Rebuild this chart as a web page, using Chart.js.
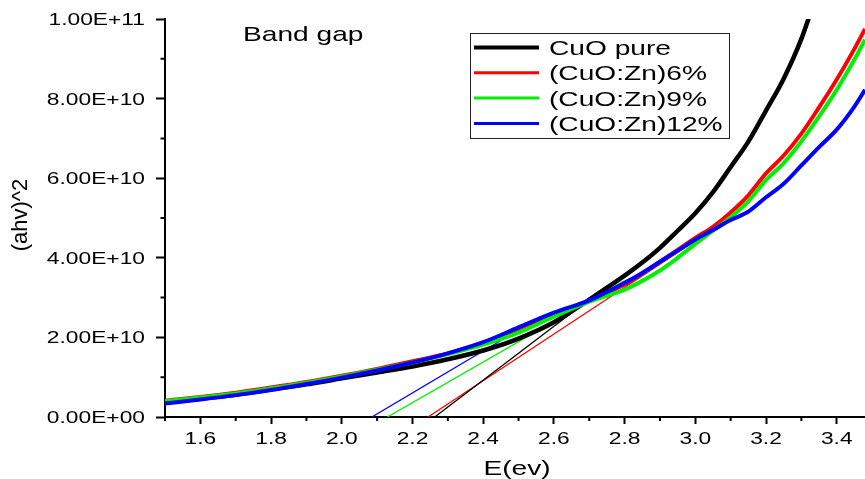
<!DOCTYPE html>
<html>
<head>
<meta charset="utf-8">
<script src="https://cdn.jsdelivr.net/npm/chart.js@4.4.1/dist/chart.umd.min.js"></script>
<style>
    body { margin: 0; background: #fff; }
</style>
</head>
<body>
<canvas id="bandcanvas" width="865" height="479"></canvas>
<script>
// photon energy (eV) and (ahv)^2 for each sample
let energy = [1.50, 1.60, 1.70, 1.80, 1.90, 2.00, 2.10, 2.20, 2.30, 2.40, 2.50, 2.60, 2.70,
              2.80, 2.85, 2.90, 2.95, 3.00, 3.05, 3.10, 3.15, 3.20, 3.25, 3.30, 3.35, 3.40, 3.45, 3.48];
let cuoPure = [0.37e10, 0.46e10, 0.56e10, 0.69e10, 0.82e10, 0.97e10, 1.12e10, 1.27e10, 1.45e10, 1.67e10, 1.97e10, 2.38e10, 2.95e10,
               3.55e10, 3.88e10, 4.25e10, 4.68e10, 5.12e10, 5.65e10, 6.28e10, 6.92e10, 7.70e10, 8.50e10, 9.50e10, 10.8e10, null, null, null];
let zn6 = [0.41e10, 0.50e10, 0.61e10, 0.74e10, 0.88e10, 1.04e10, 1.21e10, 1.40e10, 1.60e10, 1.85e10, 2.22e10, 2.57e10, 2.92e10,
           3.33e10, 3.60e10, 3.90e10, 4.20e10, 4.50e10, 4.78e10, 5.14e10, 5.57e10, 6.12e10, 6.57e10, 7.12e10, 7.78e10, 8.48e10, 9.25e10, 9.75e10];
let zn9 = [0.40e10, 0.49e10, 0.59e10, 0.72e10, 0.86e10, 1.02e10, 1.19e10, 1.37e10, 1.58e10, 1.82e10, 2.12e10, 2.52e10, 2.90e10,
           3.20e10, 3.42e10, 3.68e10, 4.00e10, 4.35e10, 4.68e10, 5.02e10, 5.42e10, 5.95e10, 6.38e10, 6.92e10, 7.55e10, 8.22e10, 8.98e10, 9.48e10];
let zn12 = [0.34e10, 0.44e10, 0.55e10, 0.68e10, 0.83e10, 0.99e10, 1.17e10, 1.37e10, 1.60e10, 1.88e10, 2.25e10, 2.62e10, 2.93e10,
            3.37e10, 3.62e10, 3.90e10, 4.18e10, 4.46e10, 4.70e10, 4.95e10, 5.16e10, 5.52e10, 5.86e10, 6.32e10, 6.78e10, 7.22e10, 7.80e10, 8.22e10];

// linear fits (start and end points) used to read the gap
let fitPureX = [2.263, 2.75];   let fitPureY = [0, 3.29e10];
let fit6X = [2.244, 3.02];      let fit6Y = [0, 4.54e10];
let fit9X = [2.129, 2.80];      let fit9Y = [0, 3.42e10];
let fit12X = [2.085, 2.55];     let fit12Y = [0, 2.45e10];

let seriesNames = ["CuO pure", "(CuO:Zn)6%", "(CuO:Zn)9%", "(CuO:Zn)12%"];
let seriesColors = ["#000000", "#ff0000", "#00ee00", "#0000ff"];

let xTicks = [1.6, 1.8, 2.0, 2.2, 2.4, 2.6, 2.8, 3.0, 3.2, 3.4];
let xTickLabels = ["1.6", "1.8", "2.0", "2.2", "2.4", "2.6", "2.8", "3.0", "3.2", "3.4"];
let xMinor = [1.5, 1.7, 1.9, 2.1, 2.3, 2.5, 2.7, 2.9, 3.1, 3.3];
let yTicks = [0, 2e10, 4e10, 6e10, 8e10, 1e11];
let yTickLabels = ["0.00E+00", "2.00E+10", "4.00E+10", "6.00E+10", "8.00E+10", "1.00E+11"];
let yMinor = [1e10, 3e10, 5e10, 7e10, 9e10];

const FONT = '"Liberation Sans", Arial, sans-serif';
const STRETCH = 1.34; // text in the picture is drawn wide

function toPoints(xs, ys) {
    return xs.map(function(x, i) { return { x: x, y: ys[i] }; });
}

function wideText(ctx, text, x, y, align) {
    ctx.save();
    ctx.translate(x, y);
    ctx.scale(STRETCH, 1);
    ctx.textAlign = align;
    ctx.textBaseline = 'alphabetic';
    ctx.fillText(text, 0, 0);
    ctx.restore();
}

let curves = [cuoPure, zn6, zn9, zn12];
let fits = [[fitPureX, fitPureY], [fit6X, fit6Y], [fit9X, fit9Y], [fit12X, fit12Y]];
let datasets = [];
curves.forEach(function(vals, i) {
    datasets.push({
        label: seriesNames[i],
        data: toPoints(energy, vals),
        borderColor: seriesColors[i],
        borderWidth: i === 0 ? 4.5 : 4,
        pointRadius: 0,
        cubicInterpolationMode: 'monotone',
        order: 4 - i
    });
});
fits.forEach(function(f, i) {
    datasets.push({
        label: 'fit',
        data: toPoints(f[0], f[1]),
        borderColor: seriesColors[i],
        borderWidth: 1.3,
        pointRadius: 0,
        order: 10
    });
});

// tick labels, minor ticks, titles and the boxed legend
const decorPlugin = {
    id: 'decor',
    afterDraw: function(chart) {
        let ctx = chart.ctx;
        let xs = chart.scales.x;
        let ys = chart.scales.y;
        let area = chart.chartArea;
        ctx.save();
        ctx.strokeStyle = '#000';
        ctx.lineWidth = 2;
        ctx.beginPath();
        xMinor.forEach(function(v) {
            let px = xs.getPixelForValue(v);
            ctx.moveTo(px, area.bottom);
            ctx.lineTo(px, area.bottom + 4);
        });
        yMinor.forEach(function(v) {
            let py = ys.getPixelForValue(v);
            ctx.moveTo(area.left, py);
            ctx.lineTo(area.left - 4.5, py);
        });
        ctx.stroke();

        ctx.fillStyle = '#000';
        ctx.font = '17px ' + FONT;
        xTicks.forEach(function(v, i) {
            wideText(ctx, xTickLabels[i], xs.getPixelForValue(v), 444, 'center');
        });
        yTicks.forEach(function(v, i) {
            wideText(ctx, yTickLabels[i], area.left - 20, ys.getPixelForValue(v) + 6, 'right');
        });

        ctx.font = '21px ' + FONT;
        wideText(ctx, 'E(ev)', 517, 475, 'center');
        wideText(ctx, 'Band gap', 243, 41, 'left');

        ctx.save();
        ctx.translate(21, 215);
        ctx.rotate(-Math.PI / 2);
        ctx.font = '22px ' + FONT;
        ctx.textAlign = 'center';
        ctx.textBaseline = 'middle';
        ctx.fillText('(ahv)^2', 0, 0);
        ctx.restore();

        // legend box
        ctx.fillStyle = '#fff';
        ctx.fillRect(470, 33, 259, 105);
        ctx.strokeStyle = '#222';
        ctx.lineWidth = 1;
        ctx.strokeRect(470.5, 33.5, 259, 105);
        chart.data.datasets.slice(0, 4).forEach(function(ds, i) {
            let cy = 47.5 + i * 25.3;
            ctx.strokeStyle = ds.borderColor;
            ctx.lineWidth = i === 0 ? 4 : 3;
            ctx.beginPath();
            ctx.moveTo(474, cy);
            ctx.lineTo(539, cy);
            ctx.stroke();
            ctx.fillStyle = '#000';
            wideText(ctx, ds.label, 549, cy + 7.5, 'left');
        });
        ctx.restore();
    }
};

let bandChart = new Chart(document.getElementById('bandcanvas').getContext('2d'), {
    type: 'line',
    data: { datasets: datasets },
    options: {
        responsive: false,
        animation: false,
        devicePixelRatio: 1,
        layout: { padding: { left: 0, right: 0, top: 19, bottom: 0 } },
        plugins: {
            legend: { display: false },
            tooltip: { enabled: false }
        },
        scales: {
            x: {
                type: 'linear',
                min: 1.5,
                max: 3.48,
                afterBuildTicks: function(scale) {
                    scale.ticks = xTicks.map(function(v) { return { value: v }; });
                },
                afterFit: function(scale) { scale.height = 62; },
                ticks: { display: false },
                grid: { drawOnChartArea: false, drawTicks: true, tickLength: 7, tickWidth: 2, tickColor: '#000' },
                border: { display: true, color: '#000', width: 2 }
            },
            y: {
                min: 0,
                max: 1e11,
                afterBuildTicks: function(scale) {
                    scale.ticks = yTicks.map(function(v) { return { value: v }; });
                },
                afterFit: function(scale) { scale.width = 165; },
                ticks: { display: false },
                grid: { drawOnChartArea: false, drawTicks: true, tickLength: 9, tickWidth: 2, tickColor: '#000' },
                border: { display: true, color: '#000', width: 2 }
            }
        }
    },
    plugins: [decorPlugin]
});
</script>
</body>
</html>
